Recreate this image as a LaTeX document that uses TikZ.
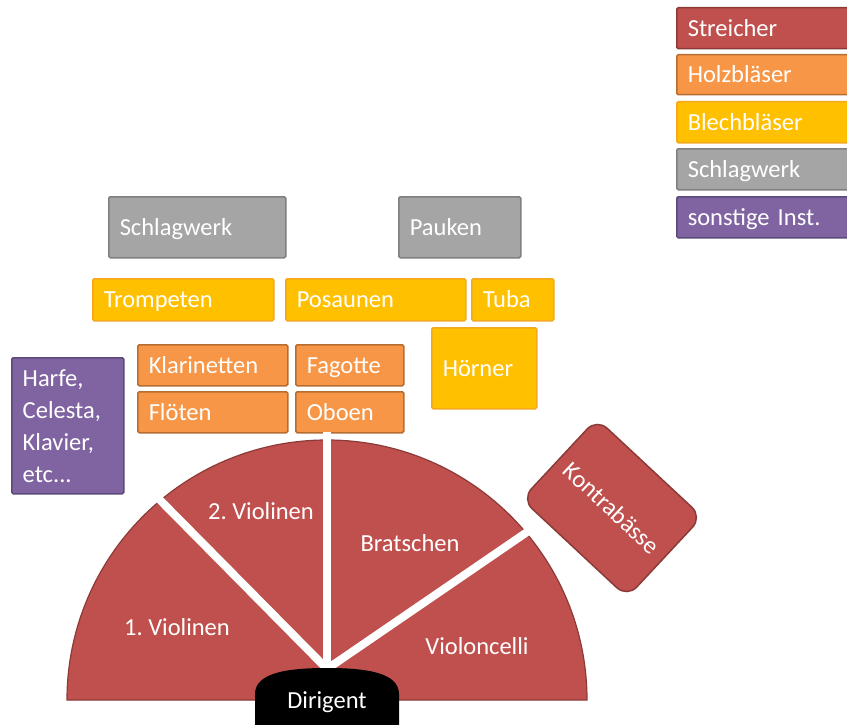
\documentclass[tikz,border=0pt]{standalone}
\usepackage{fontspec}
\setmainfont{Carlito}
\frenchspacing
\newcommand{\bxfont}{\fontsize{24.5}{32}\selectfont}
\definecolor{strfill}{HTML}{C0504D}
\definecolor{strdraw}{HTML}{8C3A38}
\definecolor{holzfill}{HTML}{F79646}
\definecolor{holzdraw}{HTML}{B66D31}
\definecolor{blechfill}{HTML}{FFC000}
\definecolor{blechdraw}{HTML}{F4A81D}
\definecolor{grayfill}{HTML}{A5A5A5}
\definecolor{graydraw}{HTML}{7F7F7F}
\definecolor{purpfill}{HTML}{8064A2}
\definecolor{purpdraw}{HTML}{5C4A7A}
\tikzset{
  bx/.style={draw, line width=1.5pt, rounded corners=1.5pt, text=white, font=\bxfont,
    anchor=north west, inner xsep=11pt, inner ysep=0pt, align=left},
  one/.style={text height=20pt, text depth=4pt},
  strbox/.style={bx, fill=strfill, draw=strdraw},
  holzbox/.style={bx, one, fill=holzfill, draw=holzdraw},
  blechbox/.style={bx, one, fill=blechfill, draw=blechdraw},
  graybox/.style={bx, one, fill=grayfill, draw=graydraw},
  purpbox/.style={bx, fill=purpfill, draw=purpdraw},
  dims/.style n args={2}{minimum width=#1pt, text width=#1pt-22pt, minimum height=#2pt},
  lbl/.style={text=white, font=\bxfont, inner sep=0pt},
  sep/.style={white, line width=8pt}
}
\begin{document}
\begin{tikzpicture}[x=1pt,y=-1pt]
\useasboundingbox (0,0) rectangle (847,725);
\clip (0,0) rectangle (847,725);

% legend
\node[strbox, one, dims={190}{41}] (lstr) at (676,7) {Streicher};
\node[holzbox, dims={190}{40}] (lholz) at (676,54) {Holzbläser};
\node[blechbox, dims={190}{41}] (lblech) at (676,101) {Blechbläser};
\node[graybox, dims={190}{41}] (lschlag) at (676,148) {Schlagwerk};
\node[purpbox, one, dims={190}{41}] (lsonst) at (676,196) {sonstige Inst.};

% percussion
\node[graybox, dims={177}{61}] (schlag) at (108,196) {Schlagwerk};
\node[graybox, dims={122}{61}] (pauken) at (398,196) {Pauken};

% brass
\node[blechbox, dims={181}{42}] (tromp) at (92,278) {Trompeten};
\node[blechbox, dims={180}{42}] (pos) at (285,278) {Posaunen};
\node[blechbox, dims={82}{42}] (tuba) at (471,278) {Tuba};
\node[blechbox, dims={105}{81}] (hoern) at (431,327) {Hörner};

% woodwinds
\node[holzbox, dims={150}{41}] (klar) at (137,344) {Klarinetten};
\node[holzbox, dims={108}{41}] (fag) at (295,344) {Fagotte};
\node[holzbox, dims={150}{41}] (flo) at (137,391) {Flöten};
\node[holzbox, dims={108}{41}] (obo) at (295,391) {Oboen};

% others
\node[purpbox, dims={112}{136}] (harfe) at (11,357) {Harfe,\\Celesta,\\Klavier,\\etc...};

% strings semicircle
\draw[strdraw, fill=strfill, line width=1.2pt] (67,700) arc[start angle=180, end angle=360, radius=260] -- cycle;
\coordinate (conv) at (327,669);
\coordinate (sepl) at (157,497);
\coordinate (sepm) at (327,432);
\coordinate (sepr) at (530,530);
\draw[sep] (conv) -- (sepl);
\draw[sep] (conv) -- (sepm);
\draw[sep] (conv) -- (sepr);

\node[lbl] (v1) at (177,627) {1. Violinen};
\node[lbl] (v2) at (261,511) {2. Violinen};
\node[lbl] (bra) at (410,543) {Bratschen};
\node[lbl] (vc) at (477,646) {Violoncelli};

% Kontrabaesse
\node[draw=strdraw, fill=strfill, line width=1.5pt, rounded corners=14pt, rotate=-43,
  minimum width=144pt, minimum height=110pt, text=white, font=\bxfont, inner sep=0pt]
  (kb) at (612,508) {Kontrabässe};

% Dirigent
\fill[black] (255,730) -- (255,694) .. controls (255,672) and (290,668) .. (327,668)
  .. controls (364,668) and (399,672) .. (399,694) -- (399,730) -- cycle;
\node[lbl] (dir) at (327,702) {Dirigent};
\end{tikzpicture}
\end{document}
